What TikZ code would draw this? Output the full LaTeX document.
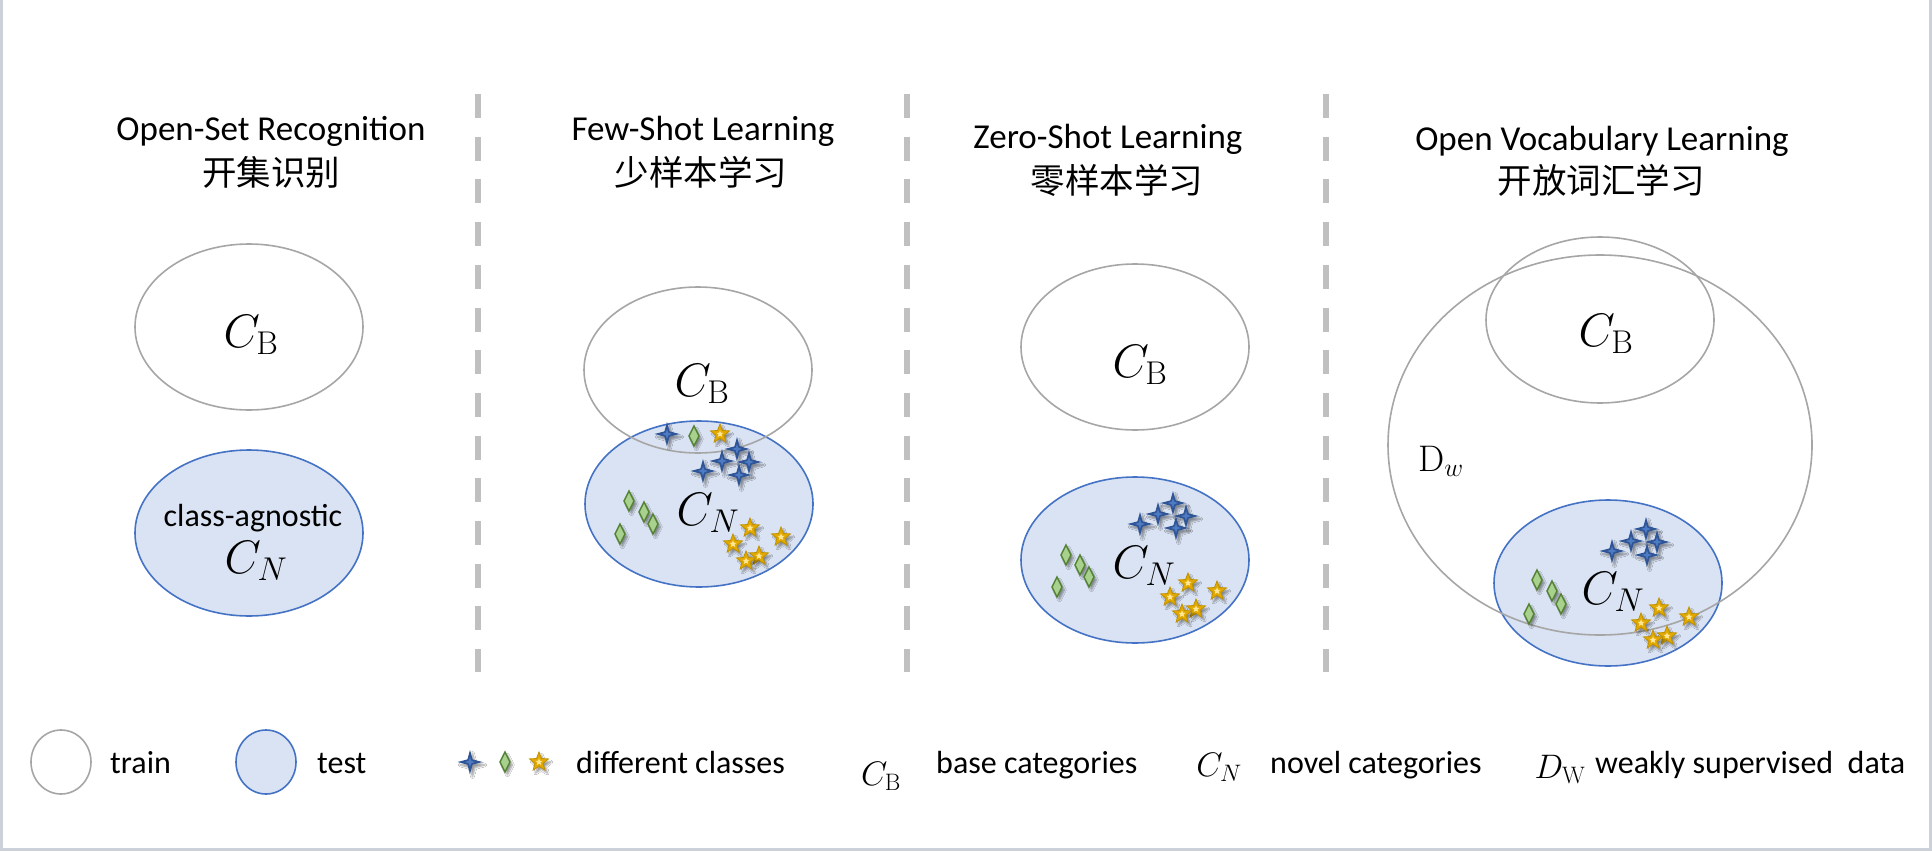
\RequirePackage{fix-cm}
\documentclass[tikz,border=0pt]{standalone}
\usepackage{fontspec}
\newfontfamily\calibrifont{Carlito}
\newfontfamily\cjkfont{Noto Sans CJK SC}
\usetikzlibrary{shapes.geometric,shadows.blur}

\definecolor{traingray}{HTML}{A6A6A6}
\definecolor{testfill}{HTML}{DAE3F3}
\definecolor{testedge}{HTML}{4472C4}
\definecolor{dividergray}{HTML}{C0C0C0}
\definecolor{framegray}{HTML}{CCD1D9}
\definecolor{starblue}{HTML}{2F5597}
\definecolor{starlight}{HTML}{4F7BC4}
\definecolor{gemgreen}{HTML}{A9D18E}
\definecolor{gemedge}{HTML}{548235}
\definecolor{goldfill}{HTML}{E2A900}
\definecolor{goldedge}{HTML}{BF9000}
\definecolor{goldlight}{HTML}{FFE699}

\tikzset{
  trainset/.style={ellipse, draw=traingray, line width=1.6pt,
    minimum width=228pt, minimum height=166pt, inner sep=0pt},
  testset/.style={ellipse, draw=testedge, fill=testfill, line width=1.6pt,
    minimum width=228pt, minimum height=166pt, inner sep=0pt},
  entitle/.style={font=\calibrifont\fontsize{35}{42}\selectfont, anchor=base, inner sep=0pt},
  zhtitle/.style={font=\cjkfont\fontsize{34.5}{42}\selectfont, anchor=base, inner sep=0pt},
  mathlbl/.style={font=\fontsize{47}{56}\selectfont, anchor=base, inner sep=0pt},
  smallmath/.style={font=\fontsize{34}{40}\selectfont, anchor=base, inner sep=0pt},
  bodytxt/.style={font=\calibrifont\fontsize{32}{38}\selectfont, anchor=base, inner sep=0pt},
  legendtxt/.style={font=\calibrifont\fontsize{32}{38}\selectfont, anchor=base west, inner sep=0pt},
  divider/.style={draw=dividergray, line width=6pt, dash pattern=on 24pt off 18.7pt},
  symshadow/.style={blur shadow={shadow xshift=2.5pt, shadow yshift=-3pt,
    shadow blur steps=6, shadow opacity=40}},
  fourstar/.pic={
    \path[symshadow, fill=starblue] (0pt,12pt) -- (2.6pt,2.6pt) -- (12.5pt,0pt)
      -- (2.6pt,-2.6pt) -- (0pt,-12pt) -- (-2.6pt,-2.6pt) -- (-12.5pt,0pt)
      -- (-2.6pt,2.6pt) -- cycle;
    \fill[starlight] (0pt,5pt) -- (1.2pt,1.2pt) -- (5pt,0pt) -- (1.2pt,-1.2pt)
      -- (0pt,-5pt) -- (-1.2pt,-1.2pt) -- (-5pt,0pt) -- (-1.2pt,1.2pt) -- cycle;
  },
  gem/.pic={
    \path[symshadow, fill=gemgreen, draw=gemedge, line width=1.4pt]
      (0pt,10pt) -- (5pt,0pt) -- (0pt,-10pt) -- (-5pt,0pt) -- cycle;
  },
  goldstar/.pic={
    \path[symshadow, fill=goldfill, draw=goldedge, line width=0.8pt]
      (90:10pt) -- (126:4.3pt) -- (162:10pt) -- (198:4.3pt) -- (234:10pt)
      -- (270:4.3pt) -- (306:10pt) -- (342:4.3pt) -- (18:10pt) -- (54:4.3pt) -- cycle;
    \fill[goldlight] (90:3.6pt) -- (126:1.6pt) -- (162:3.6pt) -- (198:1.6pt)
      -- (234:3.6pt) -- (270:1.6pt) -- (306:3.6pt) -- (342:1.6pt) -- (18:3.6pt)
      -- (54:1.6pt) -- cycle;
  },
}

\begin{document}
\begin{tikzpicture}[x=1pt, y=-1pt]
\useasboundingbox (0,0) rectangle (1932,851);
\fill[white] (0,0) rectangle (1932,851);

% frame on the left, bottom and right
\coordinate (ftl) at (1.5,0);
\coordinate (fbl) at (1.5,849.5);
\coordinate (fbr) at (1930.5,849.5);
\coordinate (ftr) at (1930.5,0);
\draw[framegray, line width=2.5pt] (ftl) -- (fbl) -- (fbr) -- (ftr);

% dashed separators between the four settings
\coordinate (d1top) at (478,94);  \coordinate (d1bot) at (478,672);
\coordinate (d2top) at (907,94);  \coordinate (d2bot) at (907,672);
\coordinate (d3top) at (1326,94); \coordinate (d3bot) at (1326,672);
\draw[divider] (d1top) -- (d1bot);
\draw[divider] (d2top) -- (d2bot);
\draw[divider] (d3top) -- (d3bot);

% titles
\node[entitle] (p1title) at (271,140) {Open-Set Recognition};
\node[zhtitle] (p1zh) at (271,185) {开集识别};
\node[entitle] (p2title) at (703,140) {Few-Shot Learning};
\node[zhtitle] (p2zh) at (701,185) {少样本学习};
\node[entitle] (p3title) at (1108,148) {Zero-Shot Learning};
\node[zhtitle] (p3zh) at (1117,193) {零样本学习};
\node[entitle] (p4title) at (1602,150) {Open Vocabulary Learning};
\node[zhtitle] (p4zh) at (1601,193) {开放词汇学习};

% test sets (filled) first, training sets drawn over them
\node[testset] (p1test) at (249,533) {};
\node[testset] (p2test) at (699,504) {};
\node[testset] (p3test) at (1135,560) {};
\node[testset] (p4test) at (1608,583) {};

\node[trainset] (p1train) at (249,327) {};
\node[trainset] (p2train) at (698,370) {};
\node[trainset] (p3train) at (1135,347) {};
\node[trainset] (p4train) at (1600,320) {};
\node[ellipse, draw=traingray, line width=1.6pt, minimum width=424pt,
      minimum height=380pt, inner sep=0pt] (p4weak) at (1600,445) {};

% class samples: few-shot
\foreach \p in {(667,434),(737,449),(722,461),(749,462),(703,471),(739,475)}
  \pic at \p {fourstar};
\foreach \p in {(694,436),(629,501),(644,512),(653,524),(620,534)}
  \pic at \p {gem};
\foreach \p in {(720,434),(750,528),(781,537),(733,544),(759,556),(746,561)}
  \pic at \p {goldstar};

% class samples: zero-shot
\foreach \p in {(1173,503),(1158,514),(1186,516),(1140,524),(1176,528)}
  \pic at \p {fourstar};
\foreach \p in {(1066,555),(1080,565),(1089,577),(1057,587)}
  \pic at \p {gem};
\foreach \p in {(1188,583),(1217,591),(1170,597),(1196,609),(1182,614)}
  \pic at \p {goldstar};

% class samples: open vocabulary
\foreach \p in {(1646,529),(1631,541),(1657,542),(1612,551),(1647,555)}
  \pic at \p {fourstar};
\foreach \p in {(1537,580),(1552,591),(1561,604),(1529,614)}
  \pic at \p {gem};
\foreach \p in {(1659,608),(1689,617),(1641,623),(1667,636),(1653,640)}
  \pic at \p {goldstar};

% set labels
\node[mathlbl] (p1cb) at (251,347) {$C_{\mathrm{B}}$};
\node[bodytxt] (p1agn) at (253,526) {class-agnostic};
\node[mathlbl] (p1cnl) at (256,573) {$C_{N}$};
\node[mathlbl] (p2cb) at (702,396) {$C_{\mathrm{B}}$};
\node[mathlbl] (p2cnl) at (708,525) {$C_{N}$};
\node[mathlbl] (p3cb) at (1140,377) {$C_{\mathrm{B}}$};
\node[mathlbl] (p3cnl) at (1144,578) {$C_{N}$};
\node[mathlbl] (p4cb) at (1606,346) {$C_{\mathrm{B}}$};
\node[mathlbl] (p4cnl) at (1613,604) {$C_{N}$};
\node[font=\fontsize{37}{44}\selectfont, anchor=base, inner sep=0pt] (p4dw) at (1441,471) {$\mathrm{D}_{w}$};

% legend
\node[trainset, minimum width=60pt, minimum height=64pt] (lgtrain) at (61,762) {};
\node[legendtxt] (lgtraintxt) at (110,773) {train};
\node[testset, minimum width=60pt, minimum height=64pt] (lgtest) at (266,762) {};
\node[legendtxt] (lgtesttxt) at (317,773) {test};
\pic at (470,762) {fourstar};
\pic at (505,762) {gem};
\pic at (539,762) {goldstar};
\node[legendtxt] (lgclasses) at (576,773) {different classes};
\node[smallmath] (lgcb) at (881,785) {$C_{\mathrm{B}}$};
\node[legendtxt] (lgbase) at (936,773) {base categories};
\node[smallmath] (lgcn) at (1219,776) {$C_{N}$};
\node[legendtxt] (lgnovel) at (1270,773) {novel categories};
\node[smallmath] (lgdw) at (1560,778) {$D_{\mathrm{W}}$};
\node[legendtxt] (lgweak) at (1595,773) {weakly supervised~ data};
\end{tikzpicture}
\end{document}
